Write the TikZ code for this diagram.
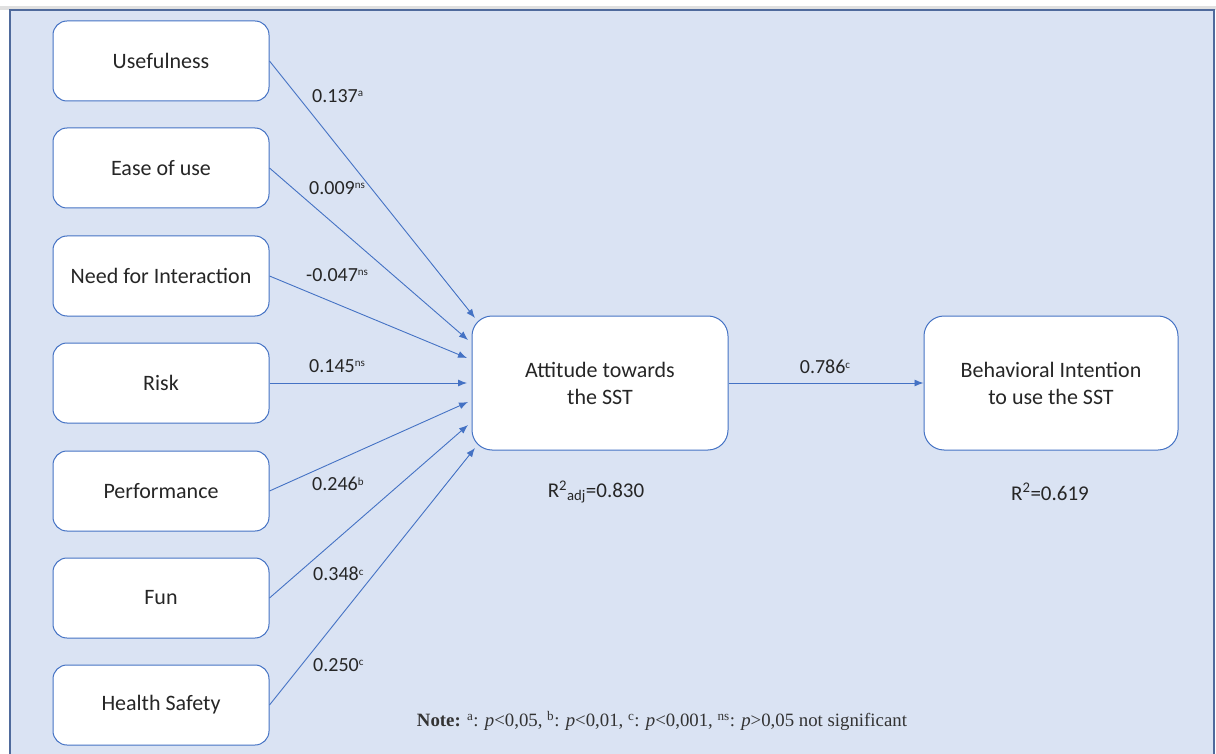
\documentclass[tikz,border=0pt]{standalone}
\usepackage{fontspec}
\setmainfont{Carlito}
\newfontfamily\notefont{Liberation Serif}
\usetikzlibrary{arrows.meta}
\definecolor{bgblue}{HTML}{DAE3F3}
\definecolor{frameblue}{HTML}{4F6A9C}
\definecolor{boxblue}{HTML}{4472C4}
\tikzset{
  smallbox/.style={draw=boxblue, fill=white, line width=1pt, rounded corners=14pt,
    minimum width=216pt, minimum height=80pt, inner sep=0pt, align=center,
    font=\fontsize{22}{26}\selectfont, text=black!85},
  bigbox/.style={draw=boxblue, fill=white, line width=1pt, rounded corners=20pt,
    minimum width=256pt, minimum height=134pt, inner sep=0pt, align=center,
    font=\fontsize{22}{27}\selectfont, text=black!85},
  conn/.style={draw=boxblue, line width=0.9pt, -{Latex[length=9pt,width=7pt]}},
  coef/.style={font=\fontsize{20}{22}\selectfont, text=black!85, inner sep=0pt, anchor=west},
  rsq/.style={font=\fontsize{21}{24}\selectfont, text=black!85, inner sep=0pt},
}
\newcommand{\sps}[1]{\raisebox{5.5pt}{\fontsize{11}{11}\selectfont #1}}
\begin{document}
\begin{tikzpicture}[x=1pt,y=-1pt]
\useasboundingbox (0,0) rectangle (1216,754);
\fill[white] (0,0) rectangle (1216,754);
\fill[black!12] (0,6) rectangle (1216,10);
\filldraw[fill=bgblue, draw=frameblue, line width=1.6pt] (10,10) rectangle (1214,770);

\node[smallbox] (use)  at (161,61)  {Usefulness};
\node[smallbox] (ease) at (161,168) {Ease of use};
\node[smallbox] (need) at (161,276) {Need for Interaction};
\node[smallbox] (risk) at (161,383) {Risk};
\node[smallbox] (perf) at (161,491) {Performance};
\node[smallbox] (fun)  at (161,598) {Fun};
\node[smallbox] (hs)   at (161,705) {Health Safety};

\node[bigbox] (att) at (600,383) {Attitude towards\\the SST};
\node[bigbox, minimum width=254pt] (bi) at (1051,383) {Behavioral Intention\\to use the SST};

\coordinate (t1) at (475,318);
\coordinate (t2) at (468,340);
\coordinate (t3) at (467,358);
\coordinate (t4) at (467,383);
\coordinate (t5) at (468,402);
\coordinate (t6) at (468,425);
\coordinate (t7) at (475,448);

\draw[conn] (use.east)  -- (t1);
\draw[conn] (ease.east) -- (t2);
\draw[conn] (need.east) -- (t3);
\draw[conn] (risk.east) -- (t4);
\draw[conn] (perf.east) -- (t5);
\draw[conn] (fun.east)  -- (t6);
\draw[conn] (hs.east)   -- (t7);
\draw[conn] (att.east) -- (bi.west);

\node[coef] (l1) at (312,96)  {0.137\sps{a}};
\node[coef] (l2) at (309,188) {0.009\sps{ns}};
\node[coef] (l3) at (306,275) {-0.047\sps{ns}};
\node[coef] (l4) at (309,366) {0.145\sps{ns}};
\node[coef] (l5) at (312,484) {0.246\sps{b}};
\node[coef] (l6) at (313,574) {0.348\sps{c}};
\node[coef] (l7) at (313,665) {0.250\sps{c}};
\node[coef, anchor=center] (l8) at (825,367) {0.786\sps{c}};

\node[rsq] (r1) at (596,492) {R\textsuperscript{2}\textsubscript{adj}=0.830};
\node[rsq] (r2) at (1050,492) {R\textsuperscript{2}=0.619};

\node[inner sep=0pt, text=black!80, font=\notefont\fontsize{18.8}{20}\selectfont] (note) at (662,721)
  {\textbf{Note:} \textsuperscript{a}: \textit{p}<0,05, \textsuperscript{b}: \textit{p}<0,01, \textsuperscript{c}: \textit{p}<0,001, \textsuperscript{ns}: \textit{p}>0,05 not significant};
\end{tikzpicture}
\end{document}
